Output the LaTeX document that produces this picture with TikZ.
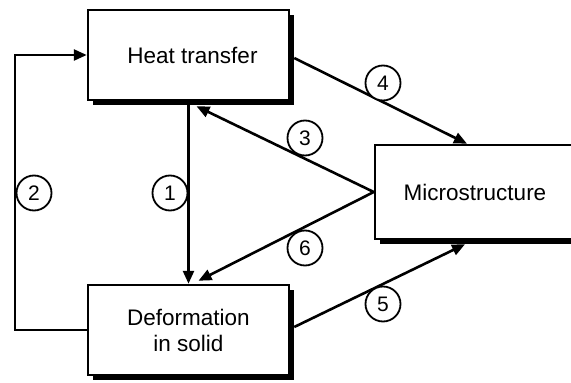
\documentclass[tikz,border=0pt]{standalone}
\usepackage{fontspec}
\setmainfont{Liberation Sans}
\usetikzlibrary{arrows.meta,calc,shadows}
\begin{document}
\begin{tikzpicture}[x=1pt,y=-1pt,
  box/.style={draw=black,line width=2.5pt,fill=white,inner sep=0pt,
    font=\fontsize{22.5}{26}\selectfont,align=center,
    drop shadow={shadow xshift=5pt,shadow yshift=-5pt,opacity=1,fill=black}},
  conn/.style={line width=2.6pt,-{Triangle[length=13pt,width=11pt]}},
  num/.style={circle,draw=black,line width=1.8pt,fill=white,minimum size=35pt,
    inner sep=0pt,font=\fontsize{21}{21}\selectfont}]
\useasboundingbox (0,0) rectangle (571,383);
\clip (0,0) rectangle (571,383);
\fill[white] (0,0) rectangle (571,383);
% boxes
\node[box,minimum width=201pt,minimum height=90pt] (HT) at (188.5,55) {\hspace*{8pt}Heat transfer};
\node[box,minimum width=201pt,minimum height=90pt] (Def) at (188.5,330) {Deformation\\in solid};
\node[box,minimum width=200pt,minimum height=94pt] (MS) at (475,192) {Microstructure};
% coordinates
\coordinate (k2) at (15,330);
\coordinate (t3) at ($(HT.south)+(8,5)$);
\coordinate (t6) at ($(Def.north)+(10,-3)$);
\coordinate (s4) at ($(HT.east)+(4,3)$);
\coordinate (t4) at ($(MS.north)+(-8,0)$);
\coordinate (s5) at ($(Def.east)+(4,-3)$);
\coordinate (t5) at ($(MS.south)+(-10,4)$);
% connectors
\draw[conn] (HT.south) -- (Def.north);
\draw[conn] (Def.west) -- (k2) |- (HT.west);
\draw[conn] (MS.west) -- (t3);
\draw[conn] (MS.west) -- (t6);
\draw[conn] (s4) -- (t4);
\draw[conn] (s5) -- (t5);
% labels
\node[num] (n1) at (170,193) {1};
\node[num] (n2) at (34,193) {2};
\node[num] (n3) at (305,138) {3};
\node[num] (n4) at (383,83) {4};
\node[num] (n5) at (383,304) {5};
\node[num] (n6) at (305,248) {6};
\end{tikzpicture}
\end{document}
